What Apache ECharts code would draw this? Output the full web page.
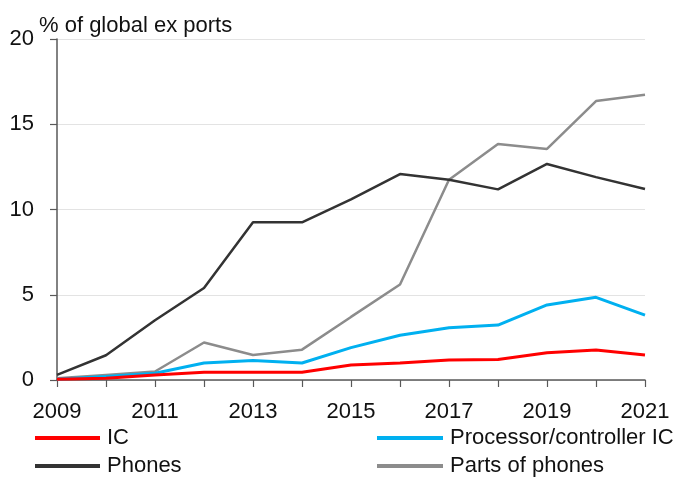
<!DOCTYPE html>
<html>
<head>
<meta charset="utf-8">
<script src="https://cdn.jsdelivr.net/npm/echarts@6/dist/echarts.min.js"></script>
<style>html,body{margin:0;padding:0;background:#fff;}#c{width:679px;height:495px;}</style>
</head>
<body>
<div id="c"></div>
<script>
const years = ['2009','2010','2011','2012','2013','2014','2015','2016','2017','2018','2019','2020','2021'];
const icVals = [0.05, 0.1, 0.3, 0.45, 0.45, 0.45, 0.88, 1.0, 1.17, 1.2, 1.6, 1.76, 1.47];
const procVals = [0.05, 0.2, 0.4, 1.0, 1.15, 1.0, 1.9, 2.62, 3.07, 3.22, 4.4, 4.85, 3.8];
const phonesVals = [0.3, 1.45, 3.5, 5.4, 9.25, 9.25, 10.6, 12.08, 11.75, 11.18, 12.67, 11.9, 11.2];
const partsVals = [0.1, 0.3, 0.5, 2.2, 1.47, 1.78, 3.7, 5.6, 11.75, 13.84, 13.55, 16.36, 16.73];
const yTicks = [0, 5, 10, 15, 20];
const titleText = '% of global ex ports';

const chart = echarts.init(document.getElementById('c'), null, {renderer: 'canvas'});
const font = '"Liberation Sans", Arial, sans-serif';
const fs = 22;
const colors = {ic: '#ff0000', proc: '#00b0f0', phones: '#333333', parts: '#8c8c8c'};
function line(name, data, color, width, z) {
  return {name, type: 'line', data, symbol: 'none', z,
    lineStyle: {color, width}, itemStyle: {color}, animation: false};
}
chart.setOption({
  animation: false,
  title: {text: titleText, left: 39, top: 15, padding: 0, textStyle: {fontFamily: font, fontSize: fs, fontWeight: 'normal', color: '#111'}},
  grid: {left: 57, right: 34, top: 39, bottom: 115, containLabel: false},
  xAxis: {
    type: 'category', data: years, boundaryGap: false,
    axisLine: {lineStyle: {color: '#595959', width: 1.5}},
    axisTick: {show: true, interval: 0, length: 7, lineStyle: {color: '#595959', width: 1.2}},
    axisLabel: {interval: 1, margin: 21, fontFamily: font, fontSize: fs, color: '#111'},
    splitLine: {show: false}
  },
  yAxis: {
    type: 'value', min: yTicks[0], max: yTicks[yTicks.length - 1], interval: 5,
    axisLine: {show: true, lineStyle: {color: '#595959', width: 1.5}},
    axisTick: {show: true, length: 7, lineStyle: {color: '#595959', width: 1.2}},
    axisLabel: {margin: 23, fontFamily: font, fontSize: fs, color: '#111'},
    splitLine: {show: true, lineStyle: {color: '#e3e3e3', width: 1.2}}
  },
  legend: [
    {data: ['IC', 'Phones'], orient: 'vertical', left: 35, top: 427, icon: 'rect', itemWidth: 65, itemHeight: 4, itemGap: 6,
      textStyle: {fontFamily: font, fontSize: fs, color: '#111', lineHeight: 22, padding: [0,0,0,2]}, padding: 0, selectedMode: false},
    {data: ['Processor/controller IC', 'Parts of phones'], orient: 'vertical', left: 377, top: 427, icon: 'rect', itemWidth: 66, itemHeight: 4, itemGap: 6,
      textStyle: {fontFamily: font, fontSize: fs, color: '#111', lineHeight: 22, padding: [0,0,0,2]}, padding: 0, selectedMode: false}
  ],
  series: [
    line('IC', icVals, colors.ic, 3, 4),
    line('Processor/controller IC', procVals, colors.proc, 3, 3),
    line('Phones', phonesVals, colors.phones, 2.5, 2),
    line('Parts of phones', partsVals, colors.parts, 2.5, 1)
  ]
});
</script>
</body>
</html>
